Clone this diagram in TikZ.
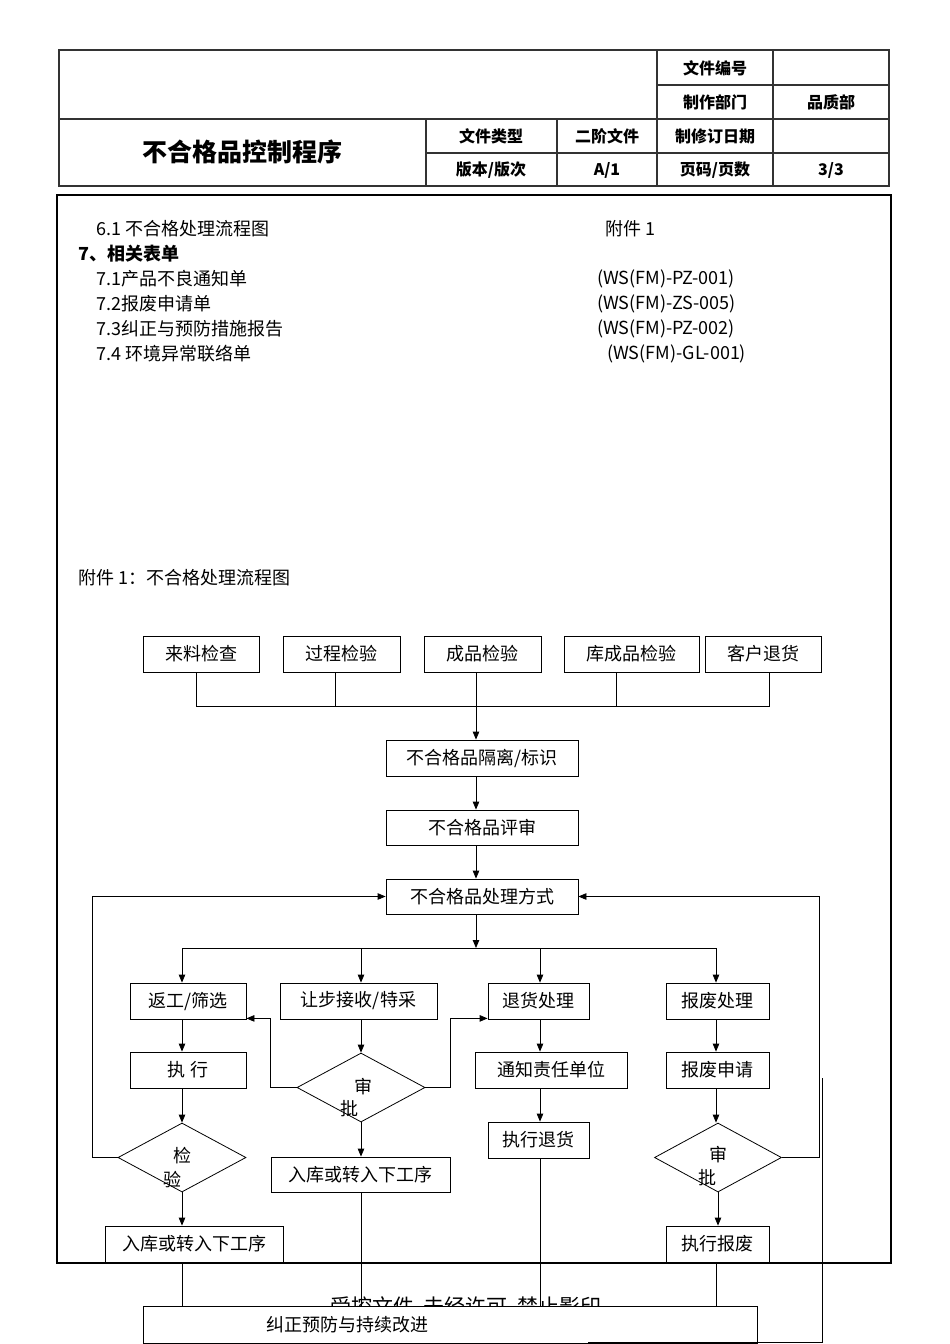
\documentclass[tikz,border=0pt]{standalone}
\usepackage{fontspec}
\setmainfont{Noto Sans CJK SC}
\usetikzlibrary{shapes.geometric,arrows.meta}
\newcommand\myfs[1]{\fontsize{#1}{#1}\selectfont}
\begin{document}
\begin{tikzpicture}[x=1pt,y=-1pt,
  hd/.style={draw=black!80, line width=1.1pt},
  htxt/.style={inner sep=0, font=\myfs{16}\bfseries},
  btxt/.style={inner sep=0, anchor=west, font=\myfs{18}},
  box/.style={draw, line width=0.8pt, inner sep=0, font=\myfs{18}},
  dia/.style={draw, diamond, inner sep=0, line width=0.8pt},
  dtxt/.style={inner sep=0, font=\myfs{18}},
  arr/.style={-{Triangle[length=8pt,width=6.5pt]}, line width=0.8pt},
  ln/.style={line width=0.8pt}]
\useasboundingbox (0,0) rectangle (950,1344);
% ---------- header table ----------
\draw[hd] (59,50) rectangle (889,186);
\draw[hd] (59,119) -- (889,119);
\draw[hd] (657,50) -- (657,186);
\draw[hd] (773,50) -- (773,186);
\draw[hd] (657,85) -- (889,85);
\draw[hd] (426,119) -- (426,186);
\draw[hd] (557,119) -- (557,186);
\draw[hd] (426,153) -- (889,153);
\node[htxt] (h1) at (715,68) {文件编号};
\node[htxt] (h2) at (715,102) {制作部门};
\node[htxt] (h3) at (831,102) {品质部};
\node[htxt] (h4) at (491,136) {文件类型};
\node[htxt] (h5) at (607,136) {二阶文件};
\node[htxt] (h6) at (715,136) {制修订日期};
\node[htxt] (h7) at (491,170) {版本/版次};
\node[htxt] (h8) at (607,170) {A/1};
\node[htxt] (h9) at (715,170) {页码/页数};
\node[htxt] (h10) at (831,170) {3/3};
\node[inner sep=0, font=\myfs{25}\bfseries] (title) at (242,152) {不合格品控制程序};
% ---------- body frame ----------
\draw[line width=1.2pt] (57,195) rectangle (891,1263);
\node[btxt] (t1) at (96,229) {6.1 不合格处理流程图};
\node[btxt] (t1r) at (605,229) {附件 1};
\node[btxt, font=\myfs{18}\bfseries] (t2) at (78,254) {7、相关表单};
\node[btxt] (t3) at (96,279) {7.1产品不良通知单};
\node[btxt] (t3r) at (597,279) {(WS(FM)-PZ-001)};
\node[btxt] (t4) at (96,304) {7.2报废申请单};
\node[btxt] (t4r) at (597,304) {(WS(FM)-ZS-005)};
\node[btxt] (t5) at (96,329) {7.3纠正与预防措施报告};
\node[btxt] (t5r) at (597,329) {(WS(FM)-PZ-002)};
\node[btxt] (t6) at (96,354) {7.4 环境异常联络单};
\node[btxt] (t6r) at (607,354) {(WS(FM)-GL-001)};
\node[btxt] (t7) at (78,578) {附件 1：不合格处理流程图};
% ---------- flowchart ----------
\coordinate (c1) at (182,0);
\coordinate (c2) at (361,0);
\coordinate (c3) at (540,0);
\coordinate (c4) at (716,0);
\coordinate (cm) at (476,0);
\node[box, minimum width=116, minimum height=36] (lai) at (201,654) {来料检查};
\node[box, minimum width=117, minimum height=36] (guo) at (341.5,654) {过程检验};
\node[box, minimum width=117, minimum height=36] (cheng) at (482.5,654) {成品检验};
\node[box, minimum width=135, minimum height=36] (ku) at (631.5,654) {库成品检验};
\node[box, minimum width=116, minimum height=36] (ke) at (763,654) {客户退货};
\coordinate (j1) at (476,706);
\draw[ln] ([xshift=-5pt]lai.south) |- (j1);
\draw[ln] ([xshift=-6.5pt]guo.south) -- ++(0,34);
\draw[ln] ([xshift=-6.5pt]cheng.south) -- ++(0,34);
\draw[ln] ([xshift=-15.5pt]ku.south) -- ++(0,34);
\draw[ln] ([xshift=6pt]ke.south) |- (j1);
\node[box, minimum width=192, minimum height=36] (iso) at (482,758) {不合格品隔离/标识};
\node[box, minimum width=192, minimum height=35] (rev) at (482,827.5) {不合格品评审};
\node[box, minimum width=192, minimum height=35] (way) at (482,896.5) {不合格品处理方式};
\draw[arr] (j1) -- (j1 |- iso.north);
\draw[arr] (iso.south -| cm) -- (rev.north -| cm);
\draw[arr] (rev.south -| cm) -- (way.north -| cm);
\coordinate (j2) at (476,948);
\draw[arr] (way.south -| cm) -- (j2);
\draw[ln] (c1 |- j2) -- (c4 |- j2);
% row 1
\node[box, minimum width=116, minimum height=36] (fg) at (188,1001) {返工/筛选};
\node[box, minimum width=157, minimum height=36] (rb) at (358.5,1001) {让步接收/特采};
\node[box, minimum width=101, minimum height=36] (th) at (538.5,1001) {退货处理};
\node[box, minimum width=103, minimum height=36] (bf) at (717.5,1001) {报废处理};
\draw[arr] (c1 |- j2) -- (c1 |- fg.north);
\draw[arr] (c2 |- j2) -- (c2 |- rb.north);
\draw[arr] (c3 |- j2) -- (c3 |- th.north);
\draw[arr] (c4 |- j2) -- (c4 |- bf.north);
% row 2
\node[box, minimum width=116, minimum height=36] (zx) at (188,1070) {执\ 行};
\node[dia, minimum width=128, minimum height=69] (d1) at (361,1087.5) {};
\node[dtxt] (d1a) at (363,1087) {审};
\node[dtxt] (d1b) at (349,1109) {批};
\node[box, minimum width=152, minimum height=36] (tz) at (551,1070) {通知责任单位};
\node[box, minimum width=103, minimum height=36] (sq) at (717.5,1070) {报废申请};
\draw[arr] (fg.south -| c1) -- (zx.north -| c1);
\draw[arr] (rb.south -| c2) -- (d1.north);
\draw[arr] (th.south -| c3) -- (tz.north -| c3);
\draw[arr] (bf.south -| c4) -- (sq.north -| c4);
\draw[arr] (d1.west) -- ++(-26,0) |- ([yshift=1pt]fg.south east);
\draw[arr] (d1.east) -- ++(25,0) |- ([yshift=1pt]th.south west);
% row 3
\node[dia, minimum width=128, minimum height=69] (d2) at (182,1157.5) {};
\node[dtxt] (d2a) at (182,1156) {检};
\node[dtxt] (d2b) at (172,1180) {验};
\node[box, minimum width=179, minimum height=35] (rk2) at (360.5,1174.5) {入库或转入下工序};
\node[box, minimum width=101, minimum height=36] (zt) at (538.5,1140) {执行退货};
\node[dia, minimum width=127, minimum height=69] (d3) at (718,1157.5) {};
\node[dtxt] (d3a) at (718,1155) {审};
\node[dtxt] (d3b) at (707,1178) {批};
\draw[arr] (zx.south -| c1) -- (d2.north);
\draw[arr] (d1.south) -- (d1.south |- rk2.north);
\draw[arr] (tz.south -| c3) -- (zt.north -| c3);
\draw[arr] (sq.south -| c4) -- (d3.north -| c4);
\draw[arr] (d2.west) -- ++(-25,0) |- (way.west);
\draw[arr] (d3.east) -- ++(37.5,0) |- (way.east);
% row 4
\node[box, minimum width=178, minimum height=36] (rk1) at (194,1244) {入库或转入下工序};
\node[box, minimum width=103, minimum height=36] (zb) at (717.5,1244) {执行报废};
\draw[arr] (d2.south) -- (d2.south |- rk1.north);
\draw[arr] (d3.south) -- (d3.south |- zb.north);
% watermark (partly hidden)
\node[inner sep=0, font=\myfs{21}] (wm) at (466,1306) {受控文件\ \ 未经许可\ \ 禁止影印};
% bottom box
\node[box, fill=white, minimum width=614, minimum height=37] (jz) at (450,1324.5) {};
\node[dtxt] (jzt) at (347,1325) {纠正预防与持续改进};
\draw[ln] (rk1.south -| c1) -- (c1 |- jz.north);
\draw[ln] (rk2.south -| c2) -- (c2 |- jz.north);
\draw[ln] (zt.south -| c3) -- (c3 |- jz.north);
\draw[ln] (zb.south -| c4) -- (c4 |- jz.north);
% stray lines
\coordinate (s1) at (822,1078);
\coordinate (s2) at (822,1342);
\coordinate (s3) at (588,1342);
\draw[ln] (s1) -- (s2) -- (s3);
\end{tikzpicture}
\end{document}
